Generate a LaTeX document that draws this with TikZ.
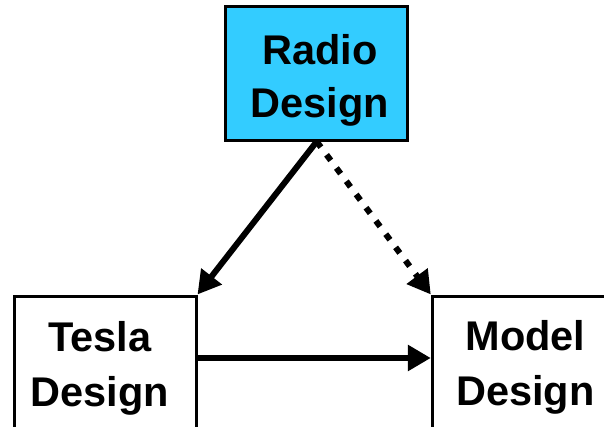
\documentclass[tikz,border=0pt]{standalone}
\usepackage{fontspec}
\setmainfont{Liberation Sans}
\usetikzlibrary{arrows.meta}
\definecolor{radiocyan}{HTML}{33CCFF}
\begin{document}
\begin{tikzpicture}[x=1pt,y=-1pt,
 boxstyle/.style={draw=black, line width=3pt, rectangle, inner sep=0pt},
 lbl/.style={font=\bfseries\fontsize{41.5}{53}\selectfont, align=center, inner sep=0pt},
 arr/.style={line width=6pt, -{Triangle[length=23pt,width=25pt]}},
 dotarr/.style={arr, dash pattern=on 7pt off 9.5pt},
]
\useasboundingbox (0,0) rectangle (604,427);
\clip (0,0) rectangle (604,427);
\node[boxstyle, fill=radiocyan, minimum width=182pt, minimum height=133.5pt] (radio) at (316.7,73.3) {};
\node[boxstyle, fill=white, minimum width=182pt, minimum height=200pt] (tesla) at (105,396) {};
\node[boxstyle, fill=white, minimum width=268pt, minimum height=200pt] (model) at (566.3,396) {};
\node[lbl] (radiotext) at (320,80) {Radio\\Design};
\node[lbl, font=\bfseries\fontsize{41.5}{55}\selectfont] (teslatext) at (100,368.5) {Tesla\\Design};
\node[lbl, font=\bfseries\fontsize{41.5}{55}\selectfont] (modeltext) at (525.5,367) {Model\\Design};
\coordinate (h) at (0,358);
\draw[arr] (radio.south) -- (tesla.north east);
\draw[dotarr] (radio.south) -- (model.north west);
\draw[arr] (tesla.east |- h) -- (model.west |- h);
\end{tikzpicture}
\end{document}
